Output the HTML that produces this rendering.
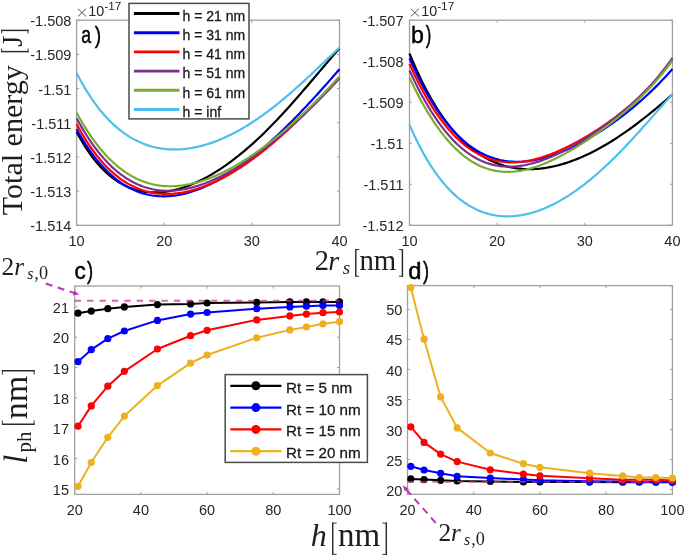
<!DOCTYPE html>
<html><head><meta charset="utf-8"><title>figure</title><style>html,body{margin:0;padding:0;background:#fff;width:685px;height:557px;overflow:hidden}svg{display:block;will-change:transform}</style></head><body>
<svg width="685" height="557" viewBox="0 0 685 557">
<rect width="685" height="557" fill="#fff"/>
<path d="M76.6 225.3V222.7M76.6 20.2V22.8M164.23 225.3V222.7M164.23 20.2V22.8M251.87 225.3V222.7M251.87 20.2V22.8M339.5 225.3V222.7M339.5 20.2V22.8M76.6 20.2H79.2M339.5 20.2H336.9M76.6 54.38H79.2M339.5 54.38H336.9M76.6 88.57H79.2M339.5 88.57H336.9M76.6 122.75H79.2M339.5 122.75H336.9M76.6 156.93H79.2M339.5 156.93H336.9M76.6 191.12H79.2M339.5 191.12H336.9M76.6 225.3H79.2M339.5 225.3H336.9" stroke="#a0a0a0" stroke-width="1" fill="none"/>
<rect x="76.6" y="20.2" width="262.9" height="205.1" fill="none" stroke="#a0a0a0" stroke-width="1.3"/>
<path d="M76.6 131.85 L78.81 135.93 L81.02 139.83 L83.23 143.54 L85.44 147.07 L87.65 150.43 L89.86 153.62 L92.06 156.65 L94.27 159.52 L96.48 162.24 L98.69 164.81 L100.9 167.24 L103.11 169.53 L105.32 171.69 L107.53 173.72 L109.74 175.62 L111.95 177.4 L114.16 179.06 L116.37 180.61 L118.58 182.04 L120.78 183.37 L122.99 184.6 L125.2 185.72 L127.41 186.75 L129.62 187.69 L131.83 188.53 L134.04 189.28 L136.25 189.95 L138.46 190.53 L140.67 191.03 L142.88 191.45 L145.09 191.8 L147.3 192.07 L149.51 192.27 L151.71 192.4 L153.92 192.46 L156.13 192.46 L158.34 192.39 L160.55 192.25 L162.76 192.06 L164.97 191.8 L167.18 191.49 L169.39 191.12 L171.6 190.69 L173.81 190.21 L176.02 189.68 L178.23 189.09 L180.43 188.45 L182.64 187.76 L184.85 187.02 L187.06 186.24 L189.27 185.4 L191.48 184.52 L193.69 183.59 L195.9 182.62 L198.11 181.6 L200.32 180.54 L202.53 179.44 L204.74 178.29 L206.95 177.1 L209.15 175.87 L211.36 174.6 L213.57 173.28 L215.78 171.93 L217.99 170.54 L220.2 169.1 L222.41 167.63 L224.62 166.12 L226.83 164.57 L229.04 162.98 L231.25 161.35 L233.46 159.69 L235.67 157.99 L237.87 156.25 L240.08 154.48 L242.29 152.67 L244.5 150.82 L246.71 148.94 L248.92 147.02 L251.13 145.08 L253.34 143.09 L255.55 141.07 L257.76 139.02 L259.97 136.94 L262.18 134.83 L264.39 132.68 L266.59 130.51 L268.8 128.3 L271.01 126.06 L273.22 123.8 L275.43 121.5 L277.64 119.18 L279.85 116.84 L282.06 114.47 L284.27 112.07 L286.48 109.65 L288.69 107.21 L290.9 104.74 L293.11 102.26 L295.32 99.76 L297.52 97.24 L299.73 94.7 L301.94 92.15 L304.15 89.58 L306.36 87 L308.57 84.42 L310.78 81.82 L312.99 79.22 L315.2 76.61 L317.41 74.01 L319.62 71.4 L321.83 68.79 L324.04 66.18 L326.24 63.59 L328.45 61 L330.66 58.42 L332.87 55.86 L335.08 53.31 L337.29 50.78 L339.5 48.28" stroke="#000000" stroke-width="2.2" fill="none" stroke-linejoin="round" stroke-linecap="butt"/>
<path d="M76.6 129.13 L78.81 133.07 L81.02 136.85 L83.23 140.48 L85.44 143.97 L87.65 147.32 L89.86 150.53 L92.06 153.6 L94.27 156.54 L96.48 159.36 L98.69 162.04 L100.9 164.61 L103.11 167.05 L105.32 169.38 L107.53 171.59 L109.74 173.69 L111.95 175.68 L114.16 177.56 L116.37 179.34 L118.58 181.01 L120.78 182.59 L122.99 184.07 L125.2 185.45 L127.41 186.74 L129.62 187.94 L131.83 189.05 L134.04 190.07 L136.25 191.01 L138.46 191.87 L140.67 192.64 L142.88 193.34 L145.09 193.96 L147.3 194.5 L149.51 194.97 L151.71 195.37 L153.92 195.69 L156.13 195.95 L158.34 196.14 L160.55 196.26 L162.76 196.32 L164.97 196.32 L167.18 196.25 L169.39 196.12 L171.6 195.94 L173.81 195.69 L176.02 195.39 L178.23 195.03 L180.43 194.62 L182.64 194.16 L184.85 193.64 L187.06 193.07 L189.27 192.45 L191.48 191.78 L193.69 191.06 L195.9 190.3 L198.11 189.49 L200.32 188.63 L202.53 187.73 L204.74 186.78 L206.95 185.79 L209.15 184.76 L211.36 183.68 L213.57 182.57 L215.78 181.41 L217.99 180.21 L220.2 178.98 L222.41 177.71 L224.62 176.39 L226.83 175.05 L229.04 173.66 L231.25 172.24 L233.46 170.78 L235.67 169.29 L237.87 167.77 L240.08 166.21 L242.29 164.62 L244.5 162.99 L246.71 161.33 L248.92 159.65 L251.13 157.93 L253.34 156.17 L255.55 154.39 L257.76 152.58 L259.97 150.74 L262.18 148.87 L264.39 146.98 L266.59 145.05 L268.8 143.1 L271.01 141.12 L273.22 139.11 L275.43 137.08 L277.64 135.02 L279.85 132.94 L282.06 130.83 L284.27 128.7 L286.48 126.55 L288.69 124.37 L290.9 122.17 L293.11 119.94 L295.32 117.7 L297.52 115.44 L299.73 113.15 L301.94 110.85 L304.15 108.52 L306.36 106.18 L308.57 103.82 L310.78 101.44 L312.99 99.04 L315.2 96.63 L317.41 94.21 L319.62 91.76 L321.83 89.31 L324.04 86.84 L326.24 84.36 L328.45 81.87 L330.66 79.36 L332.87 76.85 L335.08 74.33 L337.29 71.8 L339.5 69.26" stroke="#0000ff" stroke-width="2.2" fill="none" stroke-linejoin="round" stroke-linecap="butt"/>
<path d="M76.6 124.06 L78.81 128.12 L81.02 132.02 L83.23 135.76 L85.44 139.35 L87.65 142.8 L89.86 146.09 L92.06 149.25 L94.27 152.28 L96.48 155.17 L98.69 157.92 L100.9 160.56 L103.11 163.07 L105.32 165.45 L107.53 167.72 L109.74 169.88 L111.95 171.93 L114.16 173.86 L116.37 175.69 L118.58 177.42 L120.78 179.05 L122.99 180.58 L125.2 182.01 L127.41 183.35 L129.62 184.6 L131.83 185.76 L134.04 186.84 L136.25 187.83 L138.46 188.74 L140.67 189.57 L142.88 190.32 L145.09 191 L147.3 191.6 L149.51 192.13 L151.71 192.59 L153.92 192.98 L156.13 193.3 L158.34 193.56 L160.55 193.75 L162.76 193.88 L164.97 193.95 L167.18 193.96 L169.39 193.91 L171.6 193.81 L173.81 193.65 L176.02 193.43 L178.23 193.17 L180.43 192.85 L182.64 192.47 L184.85 192.05 L187.06 191.58 L189.27 191.07 L191.48 190.5 L193.69 189.89 L195.9 189.23 L198.11 188.53 L200.32 187.79 L202.53 187 L204.74 186.17 L206.95 185.3 L209.15 184.39 L211.36 183.44 L213.57 182.45 L215.78 181.42 L217.99 180.36 L220.2 179.25 L222.41 178.11 L224.62 176.94 L226.83 175.73 L229.04 174.48 L231.25 173.2 L233.46 171.88 L235.67 170.53 L237.87 169.15 L240.08 167.73 L242.29 166.28 L244.5 164.8 L246.71 163.29 L248.92 161.75 L251.13 160.17 L253.34 158.57 L255.55 156.94 L257.76 155.27 L259.97 153.58 L262.18 151.86 L264.39 150.11 L266.59 148.33 L268.8 146.52 L271.01 144.69 L273.22 142.83 L275.43 140.94 L277.64 139.03 L279.85 137.09 L282.06 135.13 L284.27 133.14 L286.48 131.13 L288.69 129.09 L290.9 127.03 L293.11 124.94 L295.32 122.84 L297.52 120.71 L299.73 118.56 L301.94 116.39 L304.15 114.2 L306.36 111.99 L308.57 109.76 L310.78 107.51 L312.99 105.24 L315.2 102.96 L317.41 100.66 L319.62 98.34 L321.83 96.01 L324.04 93.66 L326.24 91.3 L328.45 88.93 L330.66 86.55 L332.87 84.15 L335.08 81.75 L337.29 79.33 L339.5 76.91" stroke="#ff0000" stroke-width="2.2" fill="none" stroke-linejoin="round" stroke-linecap="butt"/>
<path d="M76.6 118.23 L78.81 122.26 L81.02 126.15 L83.23 129.9 L85.44 133.5 L87.65 136.97 L89.86 140.31 L92.06 143.51 L94.27 146.59 L96.48 149.53 L98.69 152.36 L100.9 155.06 L103.11 157.64 L105.32 160.11 L107.53 162.46 L109.74 164.71 L111.95 166.84 L114.16 168.86 L116.37 170.79 L118.58 172.6 L120.78 174.32 L122.99 175.94 L125.2 177.47 L127.41 178.9 L129.62 180.24 L131.83 181.49 L134.04 182.65 L136.25 183.73 L138.46 184.72 L140.67 185.63 L142.88 186.46 L145.09 187.21 L147.3 187.88 L149.51 188.48 L151.71 189 L153.92 189.46 L156.13 189.84 L158.34 190.16 L160.55 190.4 L162.76 190.59 L164.97 190.71 L167.18 190.76 L169.39 190.76 L171.6 190.69 L173.81 190.57 L176.02 190.39 L178.23 190.15 L180.43 189.86 L182.64 189.52 L184.85 189.13 L187.06 188.68 L189.27 188.18 L191.48 187.64 L193.69 187.05 L195.9 186.41 L198.11 185.73 L200.32 185 L202.53 184.23 L204.74 183.42 L206.95 182.57 L209.15 181.67 L211.36 180.74 L213.57 179.77 L215.78 178.76 L217.99 177.71 L220.2 176.63 L222.41 175.51 L224.62 174.36 L226.83 173.17 L229.04 171.95 L231.25 170.7 L233.46 169.42 L235.67 168.1 L237.87 166.76 L240.08 165.38 L242.29 163.97 L244.5 162.54 L246.71 161.08 L248.92 159.59 L251.13 158.07 L253.34 156.52 L255.55 154.95 L257.76 153.36 L259.97 151.73 L262.18 150.08 L264.39 148.41 L266.59 146.71 L268.8 144.99 L271.01 143.25 L273.22 141.48 L275.43 139.69 L277.64 137.87 L279.85 136.03 L282.06 134.17 L284.27 132.29 L286.48 130.39 L288.69 128.46 L290.9 126.52 L293.11 124.55 L295.32 122.56 L297.52 120.54 L299.73 118.51 L301.94 116.46 L304.15 114.39 L306.36 112.29 L308.57 110.18 L310.78 108.04 L312.99 105.88 L315.2 103.71 L317.41 101.51 L319.62 99.3 L321.83 97.06 L324.04 94.8 L326.24 92.52 L328.45 90.22 L330.66 87.91 L332.87 85.57 L335.08 83.21 L337.29 80.83 L339.5 78.43" stroke="#7e2f8e" stroke-width="2.2" fill="none" stroke-linejoin="round" stroke-linecap="butt"/>
<path d="M76.6 112.66 L78.81 116.69 L81.02 120.58 L83.23 124.32 L85.44 127.92 L87.65 131.38 L89.86 134.72 L92.06 137.92 L94.27 140.99 L96.48 143.94 L98.69 146.77 L100.9 149.47 L103.11 152.06 L105.32 154.54 L107.53 156.9 L109.74 159.15 L111.95 161.3 L114.16 163.34 L116.37 165.28 L118.58 167.11 L120.78 168.85 L122.99 170.5 L125.2 172.05 L127.41 173.5 L129.62 174.87 L131.83 176.15 L134.04 177.35 L136.25 178.46 L138.46 179.49 L140.67 180.44 L142.88 181.31 L145.09 182.1 L147.3 182.82 L149.51 183.47 L151.71 184.04 L153.92 184.55 L156.13 184.98 L158.34 185.35 L160.55 185.66 L162.76 185.9 L164.97 186.07 L167.18 186.19 L169.39 186.25 L171.6 186.25 L173.81 186.19 L176.02 186.07 L178.23 185.9 L180.43 185.68 L182.64 185.41 L184.85 185.08 L187.06 184.7 L189.27 184.28 L191.48 183.8 L193.69 183.28 L195.9 182.72 L198.11 182.11 L200.32 181.45 L202.53 180.75 L204.74 180.01 L206.95 179.23 L209.15 178.41 L211.36 177.54 L213.57 176.64 L215.78 175.7 L217.99 174.72 L220.2 173.71 L222.41 172.66 L224.62 171.57 L226.83 170.45 L229.04 169.29 L231.25 168.1 L233.46 166.88 L235.67 165.62 L237.87 164.34 L240.08 163.02 L242.29 161.67 L244.5 160.29 L246.71 158.87 L248.92 157.43 L251.13 155.96 L253.34 154.47 L255.55 152.94 L257.76 151.38 L259.97 149.8 L262.18 148.19 L264.39 146.55 L266.59 144.89 L268.8 143.2 L271.01 141.48 L273.22 139.74 L275.43 137.97 L277.64 136.18 L279.85 134.36 L282.06 132.52 L284.27 130.65 L286.48 128.76 L288.69 126.85 L290.9 124.91 L293.11 122.95 L295.32 120.97 L297.52 118.96 L299.73 116.93 L301.94 114.87 L304.15 112.8 L306.36 110.7 L308.57 108.58 L310.78 106.44 L312.99 104.28 L315.2 102.09 L317.41 99.89 L319.62 97.66 L321.83 95.41 L324.04 93.14 L326.24 90.85 L328.45 88.54 L330.66 86.21 L332.87 83.86 L335.08 81.49 L337.29 79.1 L339.5 76.69" stroke="#77ac30" stroke-width="2.2" fill="none" stroke-linejoin="round" stroke-linecap="butt"/>
<path d="M76.6 73.08 L78.81 77.29 L81.02 81.34 L83.23 85.23 L85.44 88.96 L87.65 92.54 L89.86 95.97 L92.06 99.26 L94.27 102.41 L96.48 105.43 L98.69 108.31 L100.9 111.07 L103.11 113.7 L105.32 116.22 L107.53 118.61 L109.74 120.9 L111.95 123.07 L114.16 125.14 L116.37 127.1 L118.58 128.96 L120.78 130.72 L122.99 132.39 L125.2 133.96 L127.41 135.45 L129.62 136.84 L131.83 138.16 L134.04 139.38 L136.25 140.53 L138.46 141.6 L140.67 142.59 L142.88 143.51 L145.09 144.35 L147.3 145.13 L149.51 145.83 L151.71 146.47 L153.92 147.04 L156.13 147.55 L158.34 147.99 L160.55 148.38 L162.76 148.7 L164.97 148.97 L167.18 149.18 L169.39 149.33 L171.6 149.43 L173.81 149.47 L176.02 149.46 L178.23 149.4 L180.43 149.29 L182.64 149.13 L184.85 148.92 L187.06 148.66 L189.27 148.36 L191.48 148.01 L193.69 147.61 L195.9 147.17 L198.11 146.68 L200.32 146.16 L202.53 145.58 L204.74 144.97 L206.95 144.31 L209.15 143.61 L211.36 142.87 L213.57 142.09 L215.78 141.27 L217.99 140.41 L220.2 139.51 L222.41 138.58 L224.62 137.6 L226.83 136.59 L229.04 135.54 L231.25 134.45 L233.46 133.32 L235.67 132.16 L237.87 130.96 L240.08 129.73 L242.29 128.47 L244.5 127.16 L246.71 125.83 L248.92 124.46 L251.13 123.05 L253.34 121.62 L255.55 120.15 L257.76 118.65 L259.97 117.11 L262.18 115.55 L264.39 113.96 L266.59 112.33 L268.8 110.68 L271.01 109 L273.22 107.29 L275.43 105.55 L277.64 103.78 L279.85 101.99 L282.06 100.18 L284.27 98.33 L286.48 96.47 L288.69 94.58 L290.9 92.67 L293.11 90.74 L295.32 88.79 L297.52 86.83 L299.73 84.84 L301.94 82.84 L304.15 80.82 L306.36 78.79 L308.57 76.74 L310.78 74.69 L312.99 72.62 L315.2 70.55 L317.41 68.47 L319.62 66.38 L321.83 64.29 L324.04 62.2 L326.24 60.11 L328.45 58.02 L330.66 55.93 L332.87 53.86 L335.08 51.79 L337.29 49.73 L339.5 47.68" stroke="#4dbeee" stroke-width="2.2" fill="none" stroke-linejoin="round" stroke-linecap="butt"/>
<path d="M409.5 225.3V222.7M409.5 20.2V22.8M497.13 225.3V222.7M497.13 20.2V22.8M584.77 225.3V222.7M584.77 20.2V22.8M672.4 225.3V222.7M672.4 20.2V22.8M409.5 20.2H412.1M672.4 20.2H669.8M409.5 61.22H412.1M672.4 61.22H669.8M409.5 102.24H412.1M672.4 102.24H669.8M409.5 143.26H412.1M672.4 143.26H669.8M409.5 184.28H412.1M672.4 184.28H669.8M409.5 225.3H412.1M672.4 225.3H669.8" stroke="#a0a0a0" stroke-width="1" fill="none"/>
<rect x="409.5" y="20.2" width="262.9" height="205.1" fill="none" stroke="#a0a0a0" stroke-width="1.3"/>
<path d="M409.5 53.53 L411.71 58.87 L413.92 64.03 L416.13 69.01 L418.34 73.83 L420.55 78.48 L422.76 82.98 L424.96 87.31 L427.17 91.5 L429.38 95.53 L431.59 99.42 L433.8 103.17 L436.01 106.78 L438.22 110.26 L440.43 113.6 L442.64 116.81 L444.85 119.91 L447.06 122.87 L449.27 125.72 L451.48 128.46 L453.68 131.08 L455.89 133.59 L458.1 135.99 L460.31 138.29 L462.52 140.48 L464.73 142.58 L466.94 144.57 L469.15 146.48 L471.36 148.29 L473.57 150.01 L475.78 151.64 L477.99 153.19 L480.2 154.65 L482.41 156.03 L484.61 157.33 L486.82 158.55 L489.03 159.7 L491.24 160.77 L493.45 161.77 L495.66 162.7 L497.87 163.56 L500.08 164.35 L502.29 165.08 L504.5 165.74 L506.71 166.34 L508.92 166.88 L511.13 167.35 L513.33 167.77 L515.54 168.13 L517.75 168.44 L519.96 168.68 L522.17 168.88 L524.38 169.02 L526.59 169.11 L528.8 169.15 L531.01 169.14 L533.22 169.08 L535.43 168.97 L537.64 168.82 L539.85 168.62 L542.05 168.37 L544.26 168.08 L546.47 167.75 L548.68 167.37 L550.89 166.95 L553.1 166.49 L555.31 165.99 L557.52 165.45 L559.73 164.87 L561.94 164.25 L564.15 163.6 L566.36 162.9 L568.57 162.17 L570.77 161.4 L572.98 160.59 L575.19 159.75 L577.4 158.88 L579.61 157.97 L581.82 157.02 L584.03 156.05 L586.24 155.03 L588.45 153.99 L590.66 152.91 L592.87 151.81 L595.08 150.67 L597.29 149.5 L599.49 148.3 L601.7 147.06 L603.91 145.8 L606.12 144.51 L608.33 143.19 L610.54 141.85 L612.75 140.47 L614.96 139.07 L617.17 137.64 L619.38 136.18 L621.59 134.69 L623.8 133.18 L626.01 131.65 L628.22 130.09 L630.42 128.5 L632.63 126.89 L634.84 125.26 L637.05 123.6 L639.26 121.93 L641.47 120.23 L643.68 118.5 L645.89 116.76 L648.1 115 L650.31 113.22 L652.52 111.41 L654.73 109.59 L656.94 107.76 L659.14 105.9 L661.35 104.03 L663.56 102.14 L665.77 100.24 L667.98 98.33 L670.19 96.4 L672.4 94.46" stroke="#000000" stroke-width="2.2" fill="none" stroke-linejoin="round" stroke-linecap="butt"/>
<path d="M409.5 58.23 L411.71 63.22 L413.92 68.05 L416.13 72.73 L418.34 77.25 L420.55 81.63 L422.76 85.87 L424.96 89.96 L427.17 93.92 L429.38 97.73 L431.59 101.41 L433.8 104.95 L436.01 108.37 L438.22 111.65 L440.43 114.81 L442.64 117.84 L444.85 120.75 L447.06 123.54 L449.27 126.21 L451.48 128.77 L453.68 131.21 L455.89 133.54 L458.1 135.77 L460.31 137.88 L462.52 139.89 L464.73 141.8 L466.94 143.61 L469.15 145.32 L471.36 146.93 L473.57 148.44 L475.78 149.87 L477.99 151.2 L480.2 152.44 L482.41 153.6 L484.61 154.67 L486.82 155.66 L489.03 156.57 L491.24 157.4 L493.45 158.15 L495.66 158.83 L497.87 159.43 L500.08 159.96 L502.29 160.42 L504.5 160.81 L506.71 161.14 L508.92 161.4 L511.13 161.59 L513.33 161.72 L515.54 161.8 L517.75 161.81 L519.96 161.77 L522.17 161.67 L524.38 161.51 L526.59 161.3 L528.8 161.04 L531.01 160.73 L533.22 160.38 L535.43 159.97 L537.64 159.52 L539.85 159.02 L542.05 158.47 L544.26 157.89 L546.47 157.26 L548.68 156.59 L550.89 155.89 L553.1 155.14 L555.31 154.36 L557.52 153.53 L559.73 152.68 L561.94 151.79 L564.15 150.86 L566.36 149.9 L568.57 148.91 L570.77 147.89 L572.98 146.83 L575.19 145.75 L577.4 144.63 L579.61 143.49 L581.82 142.31 L584.03 141.11 L586.24 139.88 L588.45 138.62 L590.66 137.34 L592.87 136.02 L595.08 134.68 L597.29 133.32 L599.49 131.92 L601.7 130.5 L603.91 129.06 L606.12 127.59 L608.33 126.09 L610.54 124.56 L612.75 123.01 L614.96 121.43 L617.17 119.82 L619.38 118.19 L621.59 116.53 L623.8 114.84 L626.01 113.12 L628.22 111.37 L630.42 109.59 L632.63 107.78 L634.84 105.94 L637.05 104.07 L639.26 102.16 L641.47 100.23 L643.68 98.25 L645.89 96.25 L648.1 94.2 L650.31 92.12 L652.52 90 L654.73 87.84 L656.94 85.64 L659.14 83.4 L661.35 81.11 L663.56 78.78 L665.77 76.4 L667.98 73.97 L670.19 71.5 L672.4 68.97" stroke="#0000ff" stroke-width="2.2" fill="none" stroke-linejoin="round" stroke-linecap="butt"/>
<path d="M409.5 63.98 L411.71 68.8 L413.92 73.47 L416.13 78 L418.34 82.4 L420.55 86.65 L422.76 90.77 L424.96 94.75 L427.17 98.6 L429.38 102.32 L431.59 105.91 L433.8 109.36 L436.01 112.69 L438.22 115.89 L440.43 118.97 L442.64 121.92 L444.85 124.75 L447.06 127.47 L449.27 130.06 L451.48 132.54 L453.68 134.9 L455.89 137.15 L458.1 139.29 L460.31 141.32 L462.52 143.25 L464.73 145.07 L466.94 146.78 L469.15 148.4 L471.36 149.91 L473.57 151.33 L475.78 152.65 L477.99 153.88 L480.2 155.01 L482.41 156.06 L484.61 157.02 L486.82 157.89 L489.03 158.68 L491.24 159.38 L493.45 160.01 L495.66 160.56 L497.87 161.03 L500.08 161.43 L502.29 161.75 L504.5 162.01 L506.71 162.19 L508.92 162.31 L511.13 162.37 L513.33 162.36 L515.54 162.29 L517.75 162.16 L519.96 161.97 L522.17 161.73 L524.38 161.43 L526.59 161.08 L528.8 160.68 L531.01 160.22 L533.22 159.72 L535.43 159.18 L537.64 158.59 L539.85 157.95 L542.05 157.28 L544.26 156.56 L546.47 155.8 L548.68 155.01 L550.89 154.18 L553.1 153.31 L555.31 152.41 L557.52 151.47 L559.73 150.51 L561.94 149.51 L564.15 148.48 L566.36 147.42 L568.57 146.33 L570.77 145.21 L572.98 144.07 L575.19 142.9 L577.4 141.7 L579.61 140.48 L581.82 139.24 L584.03 137.96 L586.24 136.67 L588.45 135.34 L590.66 134 L592.87 132.63 L595.08 131.23 L597.29 129.81 L599.49 128.37 L601.7 126.9 L603.91 125.41 L606.12 123.89 L608.33 122.34 L610.54 120.77 L612.75 119.17 L614.96 117.54 L617.17 115.88 L619.38 114.19 L621.59 112.47 L623.8 110.72 L626.01 108.93 L628.22 107.11 L630.42 105.25 L632.63 103.35 L634.84 101.41 L637.05 99.43 L639.26 97.41 L641.47 95.33 L643.68 93.22 L645.89 91.05 L648.1 88.83 L650.31 86.55 L652.52 84.21 L654.73 81.82 L656.94 79.36 L659.14 76.83 L661.35 74.23 L663.56 71.56 L665.77 68.82 L667.98 65.99 L670.19 63.08 L672.4 60.08" stroke="#ff0000" stroke-width="2.2" fill="none" stroke-linejoin="round" stroke-linecap="butt"/>
<path d="M409.5 70.5 L411.71 75.26 L413.92 79.88 L416.13 84.37 L418.34 88.72 L420.55 92.93 L422.76 97.01 L424.96 100.96 L427.17 104.77 L429.38 108.45 L431.59 112.01 L433.8 115.43 L436.01 118.73 L438.22 121.9 L440.43 124.94 L442.64 127.86 L444.85 130.66 L447.06 133.34 L449.27 135.9 L451.48 138.35 L453.68 140.67 L455.89 142.89 L458.1 144.99 L460.31 146.98 L462.52 148.87 L464.73 150.64 L466.94 152.31 L469.15 153.88 L471.36 155.35 L473.57 156.72 L475.78 157.99 L477.99 159.16 L480.2 160.24 L482.41 161.23 L484.61 162.13 L486.82 162.95 L489.03 163.67 L491.24 164.32 L493.45 164.88 L495.66 165.36 L497.87 165.76 L500.08 166.09 L502.29 166.34 L504.5 166.52 L506.71 166.63 L508.92 166.67 L511.13 166.65 L513.33 166.56 L515.54 166.4 L517.75 166.19 L519.96 165.92 L522.17 165.59 L524.38 165.21 L526.59 164.77 L528.8 164.28 L531.01 163.74 L533.22 163.15 L535.43 162.52 L537.64 161.84 L539.85 161.11 L542.05 160.35 L544.26 159.54 L546.47 158.69 L548.68 157.81 L550.89 156.88 L553.1 155.93 L555.31 154.93 L557.52 153.91 L559.73 152.85 L561.94 151.77 L564.15 150.65 L566.36 149.5 L568.57 148.33 L570.77 147.12 L572.98 145.9 L575.19 144.64 L577.4 143.36 L579.61 142.06 L581.82 140.73 L584.03 139.37 L586.24 137.99 L588.45 136.59 L590.66 135.17 L592.87 133.72 L595.08 132.25 L597.29 130.75 L599.49 129.24 L601.7 127.69 L603.91 126.12 L606.12 124.53 L608.33 122.91 L610.54 121.27 L612.75 119.59 L614.96 117.89 L617.17 116.16 L619.38 114.4 L621.59 112.61 L623.8 110.78 L626.01 108.92 L628.22 107.03 L630.42 105.09 L632.63 103.12 L634.84 101.1 L637.05 99.04 L639.26 96.94 L641.47 94.79 L643.68 92.58 L645.89 90.32 L648.1 88.01 L650.31 85.64 L652.52 83.2 L654.73 80.71 L656.94 78.14 L659.14 75.5 L661.35 72.79 L663.56 69.99 L665.77 67.12 L667.98 64.15 L670.19 61.1 L672.4 57.95" stroke="#7e2f8e" stroke-width="2.2" fill="none" stroke-linejoin="round" stroke-linecap="butt"/>
<path d="M409.5 77.7 L411.71 82.35 L413.92 86.88 L416.13 91.27 L418.34 95.54 L420.55 99.68 L422.76 103.68 L424.96 107.56 L427.17 111.32 L429.38 114.94 L431.59 118.44 L433.8 121.82 L436.01 125.07 L438.22 128.19 L440.43 131.2 L442.64 134.08 L444.85 136.85 L447.06 139.49 L449.27 142.02 L451.48 144.43 L453.68 146.73 L455.89 148.92 L458.1 150.99 L460.31 152.96 L462.52 154.81 L464.73 156.56 L466.94 158.21 L469.15 159.75 L471.36 161.19 L473.57 162.53 L475.78 163.77 L477.99 164.91 L480.2 165.96 L482.41 166.92 L484.61 167.78 L486.82 168.56 L489.03 169.25 L491.24 169.85 L493.45 170.37 L495.66 170.81 L497.87 171.17 L500.08 171.46 L502.29 171.66 L504.5 171.8 L506.71 171.86 L508.92 171.85 L511.13 171.77 L513.33 171.63 L515.54 171.42 L517.75 171.15 L519.96 170.82 L522.17 170.43 L524.38 169.98 L526.59 169.48 L528.8 168.93 L531.01 168.32 L533.22 167.67 L535.43 166.96 L537.64 166.21 L539.85 165.42 L542.05 164.58 L544.26 163.7 L546.47 162.77 L548.68 161.82 L550.89 160.82 L553.1 159.78 L555.31 158.72 L557.52 157.62 L559.73 156.48 L561.94 155.32 L564.15 154.12 L566.36 152.9 L568.57 151.65 L570.77 150.37 L572.98 149.07 L575.19 147.74 L577.4 146.38 L579.61 145 L581.82 143.6 L584.03 142.18 L586.24 140.73 L588.45 139.26 L590.66 137.77 L592.87 136.25 L595.08 134.72 L597.29 133.16 L599.49 131.58 L601.7 129.98 L603.91 128.35 L606.12 126.7 L608.33 125.03 L610.54 123.34 L612.75 121.62 L614.96 119.88 L617.17 118.1 L619.38 116.31 L621.59 114.48 L623.8 112.62 L626.01 110.73 L628.22 108.81 L630.42 106.85 L632.63 104.86 L634.84 102.83 L637.05 100.76 L639.26 98.65 L641.47 96.49 L643.68 94.29 L645.89 92.03 L648.1 89.73 L650.31 87.36 L652.52 84.95 L654.73 82.47 L656.94 79.92 L659.14 77.31 L661.35 74.63 L663.56 71.87 L665.77 69.03 L667.98 66.11 L670.19 63.11 L672.4 60.01" stroke="#77ac30" stroke-width="2.2" fill="none" stroke-linejoin="round" stroke-linecap="butt"/>
<path d="M409.5 124.68 L411.71 129.73 L413.92 134.59 L416.13 139.26 L418.34 143.73 L420.55 148.03 L422.76 152.15 L424.96 156.1 L427.17 159.88 L429.38 163.49 L431.59 166.96 L433.8 170.26 L436.01 173.42 L438.22 176.44 L440.43 179.32 L442.64 182.06 L444.85 184.66 L447.06 187.14 L449.27 189.5 L451.48 191.73 L453.68 193.85 L455.89 195.85 L458.1 197.74 L460.31 199.52 L462.52 201.19 L464.73 202.77 L466.94 204.24 L469.15 205.62 L471.36 206.9 L473.57 208.09 L475.78 209.19 L477.99 210.2 L480.2 211.13 L482.41 211.98 L484.61 212.74 L486.82 213.43 L489.03 214.04 L491.24 214.57 L493.45 215.03 L495.66 215.42 L497.87 215.74 L500.08 215.99 L502.29 216.17 L504.5 216.29 L506.71 216.35 L508.92 216.34 L511.13 216.26 L513.33 216.13 L515.54 215.94 L517.75 215.69 L519.96 215.38 L522.17 215.01 L524.38 214.59 L526.59 214.12 L528.8 213.59 L531.01 213 L533.22 212.37 L535.43 211.68 L537.64 210.94 L539.85 210.15 L542.05 209.31 L544.26 208.43 L546.47 207.49 L548.68 206.51 L550.89 205.47 L553.1 204.4 L555.31 203.27 L557.52 202.1 L559.73 200.88 L561.94 199.62 L564.15 198.32 L566.36 196.97 L568.57 195.57 L570.77 194.14 L572.98 192.66 L575.19 191.14 L577.4 189.58 L579.61 187.97 L581.82 186.33 L584.03 184.64 L586.24 182.92 L588.45 181.16 L590.66 179.36 L592.87 177.52 L595.08 175.64 L597.29 173.73 L599.49 171.78 L601.7 169.79 L603.91 167.78 L606.12 165.72 L608.33 163.64 L610.54 161.52 L612.75 159.37 L614.96 157.19 L617.17 154.98 L619.38 152.74 L621.59 150.48 L623.8 148.19 L626.01 145.87 L628.22 143.53 L630.42 141.17 L632.63 138.79 L634.84 136.38 L637.05 133.96 L639.26 131.52 L641.47 129.07 L643.68 126.6 L645.89 124.12 L648.1 121.64 L650.31 119.14 L652.52 116.64 L654.73 114.13 L656.94 111.62 L659.14 109.11 L661.35 106.6 L663.56 104.1 L665.77 101.61 L667.98 99.12 L670.19 96.65 L672.4 94.2" stroke="#4dbeee" stroke-width="2.2" fill="none" stroke-linejoin="round" stroke-linecap="butt"/>
<path d="M74.7 494.4V491.8M74.7 286V288.6M140.9 494.4V491.8M140.9 286V288.6M207.1 494.4V491.8M207.1 286V288.6M273.3 494.4V491.8M273.3 286V288.6M339.5 494.4V491.8M339.5 286V288.6M74.7 488.82H77.3M339.5 488.82H336.9M74.7 458.5H77.3M339.5 458.5H336.9M74.7 428.18H77.3M339.5 428.18H336.9M74.7 397.86H77.3M339.5 397.86H336.9M74.7 367.54H77.3M339.5 367.54H336.9M74.7 337.22H77.3M339.5 337.22H336.9M74.7 306.9H77.3M339.5 306.9H336.9" stroke="#a0a0a0" stroke-width="1" fill="none"/>
<rect x="74.7" y="286" width="264.8" height="208.4" fill="none" stroke="#a0a0a0" stroke-width="1.3"/>
<path d="M78.01 313.2 L91.25 311.1 L107.8 308.7 L124.35 306.9 L157.45 304.6 L190.55 303.9 L207.1 303 L256.75 302.4 L289.85 301.9 L306.4 301.9 L322.95 301.9 L339.5 301.9" stroke="#000000" stroke-width="2" fill="none" stroke-linejoin="round" stroke-linecap="butt"/>
<circle cx="78.01" cy="313.2" r="3.6" fill="#000000"/>
<circle cx="91.25" cy="311.1" r="3.6" fill="#000000"/>
<circle cx="107.8" cy="308.7" r="3.6" fill="#000000"/>
<circle cx="124.35" cy="306.9" r="3.6" fill="#000000"/>
<circle cx="157.45" cy="304.6" r="3.6" fill="#000000"/>
<circle cx="190.55" cy="303.9" r="3.6" fill="#000000"/>
<circle cx="207.1" cy="303" r="3.6" fill="#000000"/>
<circle cx="256.75" cy="302.4" r="3.6" fill="#000000"/>
<circle cx="289.85" cy="301.9" r="3.6" fill="#000000"/>
<circle cx="306.4" cy="301.9" r="3.6" fill="#000000"/>
<circle cx="322.95" cy="301.9" r="3.6" fill="#000000"/>
<circle cx="339.5" cy="301.9" r="3.6" fill="#000000"/>
<path d="M78.01 361.7 L91.25 349.7 L107.8 338.7 L124.35 331 L157.45 320.4 L190.55 314.1 L207.1 312.5 L256.75 308.7 L289.85 306.9 L306.4 306.2 L322.95 305.5 L339.5 305.5" stroke="#0000ff" stroke-width="2" fill="none" stroke-linejoin="round" stroke-linecap="butt"/>
<circle cx="78.01" cy="361.7" r="3.6" fill="#0000ff"/>
<circle cx="91.25" cy="349.7" r="3.6" fill="#0000ff"/>
<circle cx="107.8" cy="338.7" r="3.6" fill="#0000ff"/>
<circle cx="124.35" cy="331" r="3.6" fill="#0000ff"/>
<circle cx="157.45" cy="320.4" r="3.6" fill="#0000ff"/>
<circle cx="190.55" cy="314.1" r="3.6" fill="#0000ff"/>
<circle cx="207.1" cy="312.5" r="3.6" fill="#0000ff"/>
<circle cx="256.75" cy="308.7" r="3.6" fill="#0000ff"/>
<circle cx="289.85" cy="306.9" r="3.6" fill="#0000ff"/>
<circle cx="306.4" cy="306.2" r="3.6" fill="#0000ff"/>
<circle cx="322.95" cy="305.5" r="3.6" fill="#0000ff"/>
<circle cx="339.5" cy="305.5" r="3.6" fill="#0000ff"/>
<path d="M78.01 426.2 L91.25 405.9 L107.8 386.2 L124.35 371.3 L157.45 349 L190.55 335.7 L207.1 330.3 L256.75 319.9 L289.85 315.9 L306.4 314.1 L322.95 312.7 L339.5 312" stroke="#ff0000" stroke-width="2" fill="none" stroke-linejoin="round" stroke-linecap="butt"/>
<circle cx="78.01" cy="426.2" r="3.6" fill="#ff0000"/>
<circle cx="91.25" cy="405.9" r="3.6" fill="#ff0000"/>
<circle cx="107.8" cy="386.2" r="3.6" fill="#ff0000"/>
<circle cx="124.35" cy="371.3" r="3.6" fill="#ff0000"/>
<circle cx="157.45" cy="349" r="3.6" fill="#ff0000"/>
<circle cx="190.55" cy="335.7" r="3.6" fill="#ff0000"/>
<circle cx="207.1" cy="330.3" r="3.6" fill="#ff0000"/>
<circle cx="256.75" cy="319.9" r="3.6" fill="#ff0000"/>
<circle cx="289.85" cy="315.9" r="3.6" fill="#ff0000"/>
<circle cx="306.4" cy="314.1" r="3.6" fill="#ff0000"/>
<circle cx="322.95" cy="312.7" r="3.6" fill="#ff0000"/>
<circle cx="339.5" cy="312" r="3.6" fill="#ff0000"/>
<path d="M78.01 486.3 L91.25 462.5 L107.8 437.3 L124.35 416.1 L157.45 385.6 L190.55 363.1 L207.1 355 L256.75 337.8 L289.85 329.9 L306.4 327 L322.95 323.8 L339.5 321.7" stroke="#edb120" stroke-width="2" fill="none" stroke-linejoin="round" stroke-linecap="butt"/>
<circle cx="78.01" cy="486.3" r="3.6" fill="#edb120"/>
<circle cx="91.25" cy="462.5" r="3.6" fill="#edb120"/>
<circle cx="107.8" cy="437.3" r="3.6" fill="#edb120"/>
<circle cx="124.35" cy="416.1" r="3.6" fill="#edb120"/>
<circle cx="157.45" cy="385.6" r="3.6" fill="#edb120"/>
<circle cx="190.55" cy="363.1" r="3.6" fill="#edb120"/>
<circle cx="207.1" cy="355" r="3.6" fill="#edb120"/>
<circle cx="256.75" cy="337.8" r="3.6" fill="#edb120"/>
<circle cx="289.85" cy="329.9" r="3.6" fill="#edb120"/>
<circle cx="306.4" cy="327" r="3.6" fill="#edb120"/>
<circle cx="322.95" cy="323.8" r="3.6" fill="#edb120"/>
<circle cx="339.5" cy="321.7" r="3.6" fill="#edb120"/>
<path d="M74.7 300.8H339.5" stroke="#d02890" stroke-width="1.9" stroke-dasharray="6.3 6.1" fill="none" opacity="0.72"/>
<path d="M407.5 494.3V491.7M407.5 285.6V288.2M473.73 494.3V491.7M473.73 285.6V288.2M539.95 494.3V491.7M539.95 285.6V288.2M606.17 494.3V491.7M606.17 285.6V288.2M672.4 494.3V491.7M672.4 285.6V288.2M407.5 489.69H410.1M672.4 489.69H669.8M407.5 459.62H410.1M672.4 459.62H669.8M407.5 429.56H410.1M672.4 429.56H669.8M407.5 399.5H410.1M672.4 399.5H669.8M407.5 369.43H410.1M672.4 369.43H669.8M407.5 339.37H410.1M672.4 339.37H669.8M407.5 309.3H410.1M672.4 309.3H669.8" stroke="#a0a0a0" stroke-width="1" fill="none"/>
<rect x="407.5" y="285.6" width="264.9" height="208.7" fill="none" stroke="#a0a0a0" stroke-width="1.3"/>
<path d="M410.81 478.9 L424.06 479.6 L440.61 480.3 L457.17 481 L490.28 481.5 L523.39 482 L539.95 482 L589.62 482.1 L622.73 482.2 L639.29 482.2 L655.84 482.2 L672.4 482.2" stroke="#000000" stroke-width="2" fill="none" stroke-linejoin="round" stroke-linecap="butt"/>
<circle cx="410.81" cy="478.9" r="3.6" fill="#000000"/>
<circle cx="424.06" cy="479.6" r="3.6" fill="#000000"/>
<circle cx="440.61" cy="480.3" r="3.6" fill="#000000"/>
<circle cx="457.17" cy="481" r="3.6" fill="#000000"/>
<circle cx="490.28" cy="481.5" r="3.6" fill="#000000"/>
<circle cx="523.39" cy="482" r="3.6" fill="#000000"/>
<circle cx="539.95" cy="482" r="3.6" fill="#000000"/>
<circle cx="589.62" cy="482.1" r="3.6" fill="#000000"/>
<circle cx="622.73" cy="482.2" r="3.6" fill="#000000"/>
<circle cx="639.29" cy="482.2" r="3.6" fill="#000000"/>
<circle cx="655.84" cy="482.2" r="3.6" fill="#000000"/>
<circle cx="672.4" cy="482.2" r="3.6" fill="#000000"/>
<path d="M410.81 466.3 L424.06 470 L440.61 473.3 L457.17 476.3 L490.28 478.1 L523.39 479.5 L539.95 480.3 L589.62 481.3 L622.73 481.5 L639.29 481.7 L655.84 481.9 L672.4 482.1" stroke="#0000ff" stroke-width="2" fill="none" stroke-linejoin="round" stroke-linecap="butt"/>
<circle cx="410.81" cy="466.3" r="3.6" fill="#0000ff"/>
<circle cx="424.06" cy="470" r="3.6" fill="#0000ff"/>
<circle cx="440.61" cy="473.3" r="3.6" fill="#0000ff"/>
<circle cx="457.17" cy="476.3" r="3.6" fill="#0000ff"/>
<circle cx="490.28" cy="478.1" r="3.6" fill="#0000ff"/>
<circle cx="523.39" cy="479.5" r="3.6" fill="#0000ff"/>
<circle cx="539.95" cy="480.3" r="3.6" fill="#0000ff"/>
<circle cx="589.62" cy="481.3" r="3.6" fill="#0000ff"/>
<circle cx="622.73" cy="481.5" r="3.6" fill="#0000ff"/>
<circle cx="639.29" cy="481.7" r="3.6" fill="#0000ff"/>
<circle cx="655.84" cy="481.9" r="3.6" fill="#0000ff"/>
<circle cx="672.4" cy="482.1" r="3.6" fill="#0000ff"/>
<path d="M410.81 426.8 L424.06 442.4 L440.61 454.1 L457.17 461.6 L490.28 469.8 L523.39 474.1 L539.95 475.8 L589.62 478.2 L622.73 479.8 L639.29 479.8 L655.84 479.8 L672.4 480.5" stroke="#ff0000" stroke-width="2" fill="none" stroke-linejoin="round" stroke-linecap="butt"/>
<circle cx="410.81" cy="426.8" r="3.6" fill="#ff0000"/>
<circle cx="424.06" cy="442.4" r="3.6" fill="#ff0000"/>
<circle cx="440.61" cy="454.1" r="3.6" fill="#ff0000"/>
<circle cx="457.17" cy="461.6" r="3.6" fill="#ff0000"/>
<circle cx="490.28" cy="469.8" r="3.6" fill="#ff0000"/>
<circle cx="523.39" cy="474.1" r="3.6" fill="#ff0000"/>
<circle cx="539.95" cy="475.8" r="3.6" fill="#ff0000"/>
<circle cx="589.62" cy="478.2" r="3.6" fill="#ff0000"/>
<circle cx="622.73" cy="479.8" r="3.6" fill="#ff0000"/>
<circle cx="639.29" cy="479.8" r="3.6" fill="#ff0000"/>
<circle cx="655.84" cy="479.8" r="3.6" fill="#ff0000"/>
<circle cx="672.4" cy="480.5" r="3.6" fill="#ff0000"/>
<path d="M410.81 287.5 L424.06 339.2 L440.61 396.9 L457.17 427.9 L490.28 453 L523.39 463.7 L539.95 467.3 L589.62 473.2 L622.73 475.9 L639.29 477.5 L655.84 477.5 L672.4 478.2" stroke="#edb120" stroke-width="2" fill="none" stroke-linejoin="round" stroke-linecap="butt"/>
<circle cx="410.81" cy="287.5" r="3.6" fill="#edb120"/>
<circle cx="424.06" cy="339.2" r="3.6" fill="#edb120"/>
<circle cx="440.61" cy="396.9" r="3.6" fill="#edb120"/>
<circle cx="457.17" cy="427.9" r="3.6" fill="#edb120"/>
<circle cx="490.28" cy="453" r="3.6" fill="#edb120"/>
<circle cx="523.39" cy="463.7" r="3.6" fill="#edb120"/>
<circle cx="539.95" cy="467.3" r="3.6" fill="#edb120"/>
<circle cx="589.62" cy="473.2" r="3.6" fill="#edb120"/>
<circle cx="622.73" cy="475.9" r="3.6" fill="#edb120"/>
<circle cx="639.29" cy="477.5" r="3.6" fill="#edb120"/>
<circle cx="655.84" cy="477.5" r="3.6" fill="#edb120"/>
<circle cx="672.4" cy="478.2" r="3.6" fill="#edb120"/>
<path d="M407.5 481.9H672.4" stroke="#d02890" stroke-width="1.9" stroke-dasharray="6.3 6.1" fill="none" opacity="0.72"/>
<text x="71.4" y="26.3" font-family='"Liberation Sans", sans-serif' font-size="14.5" fill="#262626" text-anchor="end" >-1.508</text>
<text x="71.4" y="60.48" font-family='"Liberation Sans", sans-serif' font-size="14.5" fill="#262626" text-anchor="end" >-1.509</text>
<text x="71.4" y="94.67" font-family='"Liberation Sans", sans-serif' font-size="14.5" fill="#262626" text-anchor="end" >-1.51</text>
<text x="71.4" y="128.85" font-family='"Liberation Sans", sans-serif' font-size="14.5" fill="#262626" text-anchor="end" >-1.511</text>
<text x="71.4" y="163.03" font-family='"Liberation Sans", sans-serif' font-size="14.5" fill="#262626" text-anchor="end" >-1.512</text>
<text x="71.4" y="197.22" font-family='"Liberation Sans", sans-serif' font-size="14.5" fill="#262626" text-anchor="end" >-1.513</text>
<text x="71.4" y="231.4" font-family='"Liberation Sans", sans-serif' font-size="14.5" fill="#262626" text-anchor="end" >-1.514</text>
<text x="403.5" y="26.3" font-family='"Liberation Sans", sans-serif' font-size="14.5" fill="#262626" text-anchor="end" >-1.507</text>
<text x="403.5" y="67.32" font-family='"Liberation Sans", sans-serif' font-size="14.5" fill="#262626" text-anchor="end" >-1.508</text>
<text x="403.5" y="108.34" font-family='"Liberation Sans", sans-serif' font-size="14.5" fill="#262626" text-anchor="end" >-1.509</text>
<text x="403.5" y="149.36" font-family='"Liberation Sans", sans-serif' font-size="14.5" fill="#262626" text-anchor="end" >-1.51</text>
<text x="403.5" y="190.38" font-family='"Liberation Sans", sans-serif' font-size="14.5" fill="#262626" text-anchor="end" >-1.511</text>
<text x="403.5" y="231.4" font-family='"Liberation Sans", sans-serif' font-size="14.5" fill="#262626" text-anchor="end" >-1.512</text>
<text x="76.6" y="245.7" font-family='"Liberation Sans", sans-serif' font-size="14.5" fill="#262626" text-anchor="middle" >10</text>
<text x="164.23" y="245.7" font-family='"Liberation Sans", sans-serif' font-size="14.5" fill="#262626" text-anchor="middle" >20</text>
<text x="251.87" y="245.7" font-family='"Liberation Sans", sans-serif' font-size="14.5" fill="#262626" text-anchor="middle" >30</text>
<text x="339.5" y="245.7" font-family='"Liberation Sans", sans-serif' font-size="14.5" fill="#262626" text-anchor="middle" >40</text>
<text x="409.5" y="245.7" font-family='"Liberation Sans", sans-serif' font-size="14.5" fill="#262626" text-anchor="middle" >10</text>
<text x="497.13" y="245.7" font-family='"Liberation Sans", sans-serif' font-size="14.5" fill="#262626" text-anchor="middle" >20</text>
<text x="584.77" y="245.7" font-family='"Liberation Sans", sans-serif' font-size="14.5" fill="#262626" text-anchor="middle" >30</text>
<text x="672.4" y="245.7" font-family='"Liberation Sans", sans-serif' font-size="14.5" fill="#262626" text-anchor="middle" >40</text>
<text x="69" y="494.92" font-family='"Liberation Sans", sans-serif' font-size="14.5" fill="#262626" text-anchor="end" >15</text>
<text x="69" y="464.6" font-family='"Liberation Sans", sans-serif' font-size="14.5" fill="#262626" text-anchor="end" >16</text>
<text x="69" y="434.28" font-family='"Liberation Sans", sans-serif' font-size="14.5" fill="#262626" text-anchor="end" >17</text>
<text x="69" y="403.96" font-family='"Liberation Sans", sans-serif' font-size="14.5" fill="#262626" text-anchor="end" >18</text>
<text x="69" y="373.64" font-family='"Liberation Sans", sans-serif' font-size="14.5" fill="#262626" text-anchor="end" >19</text>
<text x="69" y="343.32" font-family='"Liberation Sans", sans-serif' font-size="14.5" fill="#262626" text-anchor="end" >20</text>
<text x="69" y="313" font-family='"Liberation Sans", sans-serif' font-size="14.5" fill="#262626" text-anchor="end" >21</text>
<text x="402.4" y="495.79" font-family='"Liberation Sans", sans-serif' font-size="14.5" fill="#262626" text-anchor="end" >20</text>
<text x="402.4" y="465.73" font-family='"Liberation Sans", sans-serif' font-size="14.5" fill="#262626" text-anchor="end" >25</text>
<text x="402.4" y="435.66" font-family='"Liberation Sans", sans-serif' font-size="14.5" fill="#262626" text-anchor="end" >30</text>
<text x="402.4" y="405.6" font-family='"Liberation Sans", sans-serif' font-size="14.5" fill="#262626" text-anchor="end" >35</text>
<text x="402.4" y="375.53" font-family='"Liberation Sans", sans-serif' font-size="14.5" fill="#262626" text-anchor="end" >40</text>
<text x="402.4" y="345.47" font-family='"Liberation Sans", sans-serif' font-size="14.5" fill="#262626" text-anchor="end" >45</text>
<text x="402.4" y="315.4" font-family='"Liberation Sans", sans-serif' font-size="14.5" fill="#262626" text-anchor="end" >50</text>
<text x="74.7" y="514.6" font-family='"Liberation Sans", sans-serif' font-size="14.5" fill="#262626" text-anchor="middle" >20</text>
<text x="140.9" y="514.6" font-family='"Liberation Sans", sans-serif' font-size="14.5" fill="#262626" text-anchor="middle" >40</text>
<text x="207.1" y="514.6" font-family='"Liberation Sans", sans-serif' font-size="14.5" fill="#262626" text-anchor="middle" >60</text>
<text x="273.3" y="514.6" font-family='"Liberation Sans", sans-serif' font-size="14.5" fill="#262626" text-anchor="middle" >80</text>
<text x="339.5" y="514.6" font-family='"Liberation Sans", sans-serif' font-size="14.5" fill="#262626" text-anchor="middle" >100</text>
<text x="407.5" y="514.6" font-family='"Liberation Sans", sans-serif' font-size="14.5" fill="#262626" text-anchor="middle" >20</text>
<text x="473.73" y="514.6" font-family='"Liberation Sans", sans-serif' font-size="14.5" fill="#262626" text-anchor="middle" >40</text>
<text x="539.95" y="514.6" font-family='"Liberation Sans", sans-serif' font-size="14.5" fill="#262626" text-anchor="middle" >60</text>
<text x="606.17" y="514.6" font-family='"Liberation Sans", sans-serif' font-size="14.5" fill="#262626" text-anchor="middle" >80</text>
<text x="672.4" y="514.6" font-family='"Liberation Sans", sans-serif' font-size="14.5" fill="#262626" text-anchor="middle" >100</text>
<path d="M78 8.8L86 16.4M78 16.4L86 8.8" stroke="#4a4a4a" stroke-width="0.95" fill="none"/>
<text x="88.3" y="16.4" font-family='"Liberation Sans", sans-serif' font-size="14.3" fill="#262626" text-anchor="start" >10</text>
<text x="104.3" y="9.9" font-family='"Liberation Sans", sans-serif' font-size="11.8" fill="#262626" text-anchor="start" >-17</text>
<path d="M410.9 8.8L418.9 16.4M410.9 16.4L418.9 8.8" stroke="#4a4a4a" stroke-width="0.95" fill="none"/>
<text x="421.2" y="16.4" font-family='"Liberation Sans", sans-serif' font-size="14.3" fill="#262626" text-anchor="start" >10</text>
<text x="437.2" y="9.9" font-family='"Liberation Sans", sans-serif' font-size="11.8" fill="#262626" text-anchor="start" >-17</text>
<text transform="translate(81.25,42.5) scale(0.738,1)" font-family='"Liberation Sans", sans-serif' font-size="24" fill="#000" stroke="#000" stroke-width="0.45">a</text>
<text transform="translate(94.69,42.5) scale(0.802,1)" font-family='"Liberation Sans", sans-serif' font-size="24" fill="#000" stroke="#000" stroke-width="0.45">)</text>
<text transform="translate(411.01,42.7) scale(0.964,1)" font-family='"Liberation Sans", sans-serif' font-size="24" fill="#000" stroke="#000" stroke-width="0.45">b</text>
<text transform="translate(425.7,42.7) scale(0.692,1)" font-family='"Liberation Sans", sans-serif' font-size="24" fill="#000" stroke="#000" stroke-width="0.45">)</text>
<text transform="translate(74.54,278.7) scale(0.938,1)" font-family='"Liberation Sans", sans-serif' font-size="24" fill="#000" stroke="#000" stroke-width="0.45">c</text>
<text transform="translate(87.09,278.7) scale(0.770,1)" font-family='"Liberation Sans", sans-serif' font-size="24" fill="#000" stroke="#000" stroke-width="0.45">)</text>
<text transform="translate(408.2,279) scale(0.991,1)" font-family='"Liberation Sans", sans-serif' font-size="24" fill="#000" stroke="#000" stroke-width="0.45">d</text>
<text transform="translate(422.99,279) scale(0.754,1)" font-family='"Liberation Sans", sans-serif' font-size="24" fill="#000" stroke="#000" stroke-width="0.45">)</text>
<rect x="129" y="3.4" width="120" height="115.5" fill="#fff" stroke="#4a4a4a" stroke-width="1.5"/>
<path d="M133.9 13.5H179.5" stroke="#000000" stroke-width="2.9"/>
<text x="182.6" y="20.8" font-family='"Liberation Sans", sans-serif' font-size="14" fill="#1a1a1a" text-anchor="start" stroke="#1a1a1a" stroke-width="0.3">h = 21 nm</text>
<path d="M133.9 32.7H179.5" stroke="#0000ff" stroke-width="2.9"/>
<text x="182.6" y="40" font-family='"Liberation Sans", sans-serif' font-size="14" fill="#1a1a1a" text-anchor="start" stroke="#1a1a1a" stroke-width="0.3">h = 31 nm</text>
<path d="M133.9 51.9H179.5" stroke="#ff0000" stroke-width="2.9"/>
<text x="182.6" y="59.2" font-family='"Liberation Sans", sans-serif' font-size="14" fill="#1a1a1a" text-anchor="start" stroke="#1a1a1a" stroke-width="0.3">h = 41 nm</text>
<path d="M133.9 71.1H179.5" stroke="#7e2f8e" stroke-width="2.9"/>
<text x="182.6" y="78.4" font-family='"Liberation Sans", sans-serif' font-size="14" fill="#1a1a1a" text-anchor="start" stroke="#1a1a1a" stroke-width="0.3">h = 51 nm</text>
<path d="M133.9 90.3H179.5" stroke="#77ac30" stroke-width="2.9"/>
<text x="182.6" y="97.6" font-family='"Liberation Sans", sans-serif' font-size="14" fill="#1a1a1a" text-anchor="start" stroke="#1a1a1a" stroke-width="0.3">h = 61 nm</text>
<path d="M133.9 109.5H179.5" stroke="#4dbeee" stroke-width="2.9"/>
<text x="182.6" y="116.8" font-family='"Liberation Sans", sans-serif' font-size="14" fill="#1a1a1a" text-anchor="start" stroke="#1a1a1a" stroke-width="0.3">h = inf</text>
<rect x="225.2" y="374.6" width="142.2" height="87.8" fill="#fff" stroke="#4a4a4a" stroke-width="1.5"/>
<path d="M230.3 385.8H281.4" stroke="#000000" stroke-width="2.3"/>
<circle cx="255.9" cy="385.8" r="4.5" fill="#000000"/>
<text x="286" y="392.7" font-family='"Liberation Sans", sans-serif' font-size="15.2" fill="#1a1a1a" text-anchor="start" stroke="#1a1a1a" stroke-width="0.3">Rt = 5 nm</text>
<path d="M230.3 407.6H281.4" stroke="#0000ff" stroke-width="2.3"/>
<circle cx="255.9" cy="407.6" r="4.5" fill="#0000ff"/>
<text x="286" y="414.5" font-family='"Liberation Sans", sans-serif' font-size="15.2" fill="#1a1a1a" text-anchor="start" stroke="#1a1a1a" stroke-width="0.3">Rt = 10 nm</text>
<path d="M230.3 429.4H281.4" stroke="#ff0000" stroke-width="2.3"/>
<circle cx="255.9" cy="429.4" r="4.5" fill="#ff0000"/>
<text x="286" y="436.3" font-family='"Liberation Sans", sans-serif' font-size="15.2" fill="#1a1a1a" text-anchor="start" stroke="#1a1a1a" stroke-width="0.3">Rt = 15 nm</text>
<path d="M230.3 451.2H281.4" stroke="#edb120" stroke-width="2.3"/>
<circle cx="255.9" cy="451.2" r="4.5" fill="#edb120"/>
<text x="286" y="458.1" font-family='"Liberation Sans", sans-serif' font-size="15.2" fill="#1a1a1a" text-anchor="start" stroke="#1a1a1a" stroke-width="0.3">Rt = 20 nm</text>
<text x="314.84" y="269.9" font-family='"Liberation Serif", serif' font-size="28.5" fill="#1e1e1e">2</text>
<text x="328.34" y="269.9" font-family='"Liberation Serif", serif' font-size="28" fill="#1e1e1e" font-style="italic">r</text>
<text x="342.77" y="274" font-family='"Liberation Serif", serif' font-size="19" fill="#1e1e1e" font-style="italic">s</text>
<path d="M355.8 249.1V276.7" stroke="#2a2a2a" stroke-width="1.45" fill="none"/>
<path d="M355.07 249.57H359.1M355.07 276.22H359.1" stroke="#2a2a2a" stroke-width="0.95" fill="none"/>
<text x="359.39" y="269.9" font-family='"Liberation Serif", serif' font-size="28.8" fill="#1e1e1e">nm</text>
<path d="M402.4 249.1V276.7" stroke="#2a2a2a" stroke-width="1.45" fill="none"/>
<path d="M403.12 249.57H398.9M403.12 276.22H398.9" stroke="#2a2a2a" stroke-width="0.95" fill="none"/>
<text x="310.86" y="546.2" font-family='"Liberation Serif", serif' font-size="32.1" fill="#1e1e1e" font-style="italic">h</text>
<path d="M332.7 522.6V554.8" stroke="#2a2a2a" stroke-width="1.45" fill="none"/>
<path d="M331.97 523.08H336.6M331.97 554.32H336.6" stroke="#2a2a2a" stroke-width="0.95" fill="none"/>
<text x="338" y="546.2" font-family='"Liberation Serif", serif' font-size="33" fill="#1e1e1e">nm</text>
<path d="M386.3 522.6V554.8" stroke="#2a2a2a" stroke-width="1.45" fill="none"/>
<path d="M387.03 523.08H382.4M387.03 554.32H382.4" stroke="#2a2a2a" stroke-width="0.95" fill="none"/>
<text x="1.59" y="274.5" font-family='"Liberation Serif", serif' font-size="25.4" fill="#1e1e1e">2</text>
<text x="14.15" y="274.5" font-family='"Liberation Serif", serif' font-size="25.2" fill="#1e1e1e" font-style="italic">r</text>
<text x="27.28" y="279" font-family='"Liberation Serif", serif' font-size="16" fill="#1e1e1e" font-style="italic">s</text>
<text x="34.37" y="279" font-family='"Liberation Serif", serif' font-size="18" fill="#1e1e1e">,</text>
<text x="38.95" y="279" font-family='"Liberation Serif", serif' font-size="18.2" fill="#1e1e1e">0</text>
<text x="438.39" y="540.9" font-family='"Liberation Serif", serif' font-size="25.4" fill="#1e1e1e">2</text>
<text x="450.95" y="540.9" font-family='"Liberation Serif", serif' font-size="25.2" fill="#1e1e1e" font-style="italic">r</text>
<text x="464.08" y="545.4" font-family='"Liberation Serif", serif' font-size="16" fill="#1e1e1e" font-style="italic">s</text>
<text x="471.17" y="545.4" font-family='"Liberation Serif", serif' font-size="18" fill="#1e1e1e">,</text>
<text x="475.75" y="545.4" font-family='"Liberation Serif", serif' font-size="18.2" fill="#1e1e1e">0</text>
<text transform="translate(21.8,0) rotate(-90)" x="-215.2" y="0" font-family='"Liberation Serif", serif' font-size="28.4" fill="#1e1e1e" textLength="150" lengthAdjust="spacingAndGlyphs">Total energy</text>
<path d="M1.1 51.6H28.6" stroke="#2a2a2a" stroke-width="1.45" fill="none"/>
<path d="M1.58 52.33V48.6M28.12 52.33V48.6" stroke="#2a2a2a" stroke-width="0.95" fill="none"/>
<path d="M1.1 30.4H28.6" stroke="#2a2a2a" stroke-width="1.45" fill="none"/>
<path d="M1.58 29.67V33.5M28.12 29.67V33.5" stroke="#2a2a2a" stroke-width="0.95" fill="none"/>
<text transform="translate(21.8,41.3) rotate(-90)" x="-5.53" y="0" font-family='"Liberation Serif", serif' font-size="28.4" fill="#1e1e1e">J</text>
<text transform="translate(27.4,458.6) rotate(-90)" x="-5.05" y="0" font-family='"Liberation Serif", serif' font-size="32.7" fill="#1e1e1e" font-style="italic">l</text>
<text transform="translate(31,442.3) rotate(-90)" x="-10.08" y="0" font-family='"Liberation Serif", serif' font-size="21" fill="#1e1e1e">ph</text>
<path d="M1.9 424.2H34.6" stroke="#2a2a2a" stroke-width="1.45" fill="none"/>
<path d="M2.38 424.93V420.5M34.12 424.93V420.5" stroke="#2a2a2a" stroke-width="0.95" fill="none"/>
<text transform="translate(27,397.3) rotate(-90)" x="-21.85" y="0" font-family='"Liberation Serif", serif' font-size="34" fill="#1e1e1e">nm</text>
<path d="M1.9 370.8H34.6" stroke="#2a2a2a" stroke-width="1.45" fill="none"/>
<path d="M2.38 370.07V374.6M34.12 370.07V374.6" stroke="#2a2a2a" stroke-width="0.95" fill="none"/>
<path d="M45.8 283.5L74.73 293.17" stroke="#c02ebc" stroke-width="2" stroke-dasharray="7 5.5" fill="none"/>
<path d="M79 294.6L73.02 295.13L74.54 290.58Z" fill="#c02ebc"/>
<path d="M435.7 522.8L405.78 488.97" stroke="#c02ebc" stroke-width="2" stroke-dasharray="7 5.5" fill="none"/>
<path d="M402.8 485.6L408.24 488.13L404.65 491.31Z" fill="#c02ebc"/>
</svg>
</body></html>
